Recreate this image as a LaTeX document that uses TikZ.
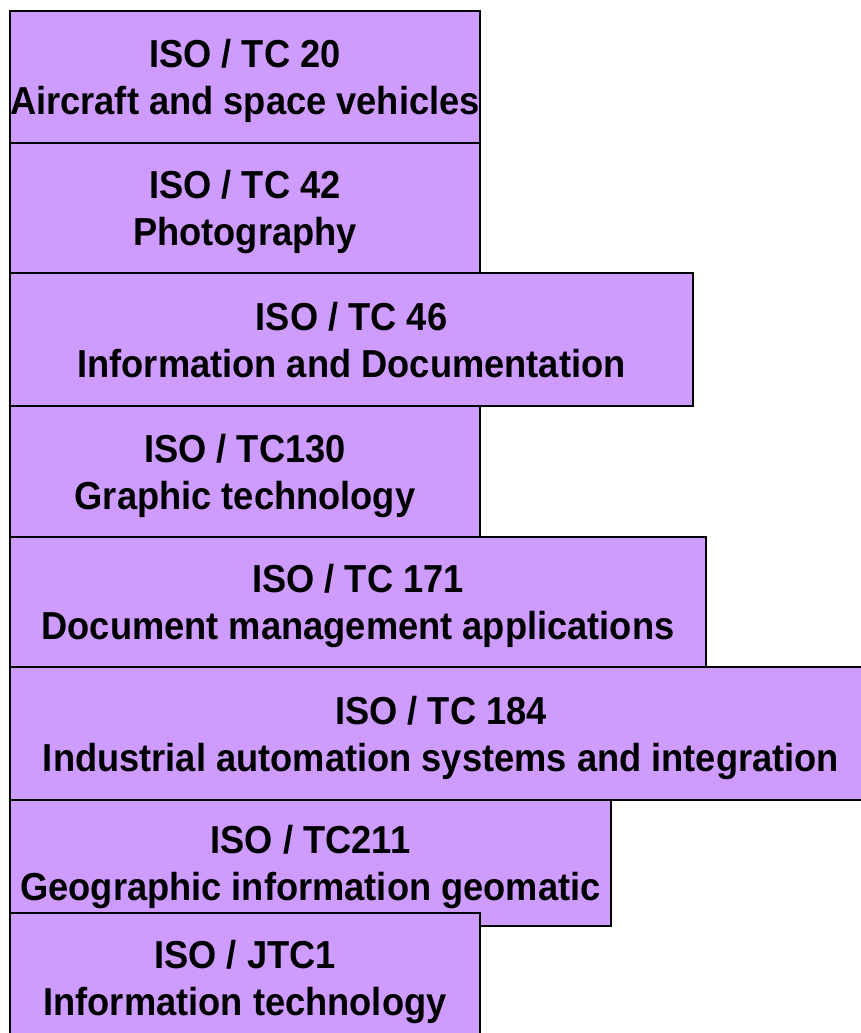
\documentclass[tikz,border=0pt]{standalone}
\usepackage{fontspec}
\setmainfont{Liberation Sans}[FakeStretch=0.93]
\usetikzlibrary{positioning}
\definecolor{tclilac}{RGB}{206,155,255}

\begin{document}
\begin{tikzpicture}[
        tcbox/.style = {
            draw,
            fill = tclilac,
            line width = 1.6pt,
            minimum width = #1,
            inner sep = 0pt,
            outer sep = 0pt,
            text depth = 0pt,
            align = center,
            font = \fontsize{39}{47}\selectfont\bfseries
        },
        tcbox/.default = 470pt
        ]
%
        \useasboundingbox (0pt,0pt) rectangle (861pt,-1033pt);
%
        \node[tcbox, minimum height=132pt, anchor=north west] (b1) at (10pt,-11pt)
                {ISO / TC 20\\Aircraft and space vehicles};
        \node[tcbox, minimum height=130pt, below right=0pt and 0pt of b1.south west] (b2)
                {ISO / TC 42\\Photography};
        \node[tcbox=683pt, minimum height=133pt, below right=0pt and 0pt of b2.south west] (b3)
                {ISO / TC 46\\Information and Documentation};
        \node[tcbox, minimum height=131pt, below right=0pt and 0pt of b3.south west] (b4)
                {ISO / TC130\\Graphic technology};
%
        \node[tcbox=696pt, minimum height=130pt, below right=0pt and 0pt of b4.south west] (b5)
                {ISO / TC 171\\Document management applications};
        \node[tcbox=862pt, minimum height=133pt, below right=0pt and 0pt of b5.south west] (b6)
                {ISO / TC 184\\Industrial automation systems and integration};
        \node[tcbox=601pt, minimum height=126pt, below right=0pt and 0pt of b6.south west] (b7)
                {ISO / TC211\\Geographic information geomatic};
        \node[tcbox, minimum height=130pt, below right=-13pt and 0pt of b7.south west] (b8)
                {ISO / JTC1\\Information technology};
%
\end{tikzpicture}
\end{document}
